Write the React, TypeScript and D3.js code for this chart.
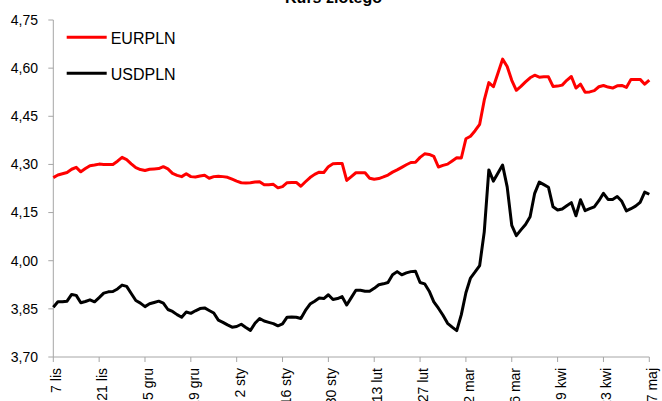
import * as d3 from "d3";

// Kurs złotego: dzienne notowania EURPLN / USDPLN (7 lis - 7 maj)
const eurpln = [
  4.259, 4.267, 4.271, 4.275, 4.285, 4.291, 4.277, 4.287, 4.296, 4.298,
  4.301, 4.300, 4.300, 4.300, 4.310, 4.322, 4.315, 4.302, 4.290, 4.284,
  4.281, 4.285, 4.286, 4.287, 4.293, 4.286, 4.272, 4.266, 4.262, 4.271,
  4.262, 4.261, 4.264, 4.266, 4.257, 4.262, 4.263, 4.262, 4.260, 4.254,
  4.248, 4.243, 4.242, 4.243, 4.245, 4.246, 4.237, 4.237, 4.238, 4.227,
  4.231, 4.243, 4.244, 4.244, 4.232, 4.246, 4.259, 4.269, 4.276, 4.275,
  4.293, 4.302, 4.303, 4.303, 4.250, 4.262, 4.274, 4.274, 4.274, 4.257,
  4.254, 4.256, 4.261, 4.267, 4.276, 4.283, 4.291, 4.299, 4.306, 4.307,
  4.322, 4.333, 4.331, 4.325, 4.292, 4.297, 4.301, 4.311, 4.321, 4.320,
  4.380, 4.388, 4.405, 4.425, 4.500, 4.555, 4.542, 4.585, 4.628, 4.605,
  4.562, 4.531, 4.543, 4.557, 4.570, 4.578, 4.572, 4.573, 4.573, 4.543,
  4.544, 4.547, 4.562, 4.574, 4.538, 4.550, 4.525, 4.526, 4.530, 4.542,
  4.546, 4.541, 4.538, 4.545, 4.546, 4.540, 4.565, 4.565, 4.565, 4.550,
  4.563,
];

const usdpln = [
  3.855, 3.872, 3.872, 3.874, 3.895, 3.892, 3.869, 3.873, 3.878, 3.872,
  3.885, 3.899, 3.903, 3.904, 3.912, 3.924, 3.920, 3.898, 3.876, 3.868,
  3.857, 3.866, 3.870, 3.874, 3.868, 3.848, 3.842, 3.832, 3.824, 3.840,
  3.836, 3.844, 3.851, 3.853, 3.845, 3.837, 3.815, 3.808, 3.800, 3.793,
  3.795, 3.802, 3.792, 3.783, 3.805, 3.820, 3.812, 3.808, 3.804, 3.797,
  3.803, 3.824, 3.825, 3.824, 3.820, 3.845, 3.865, 3.874, 3.884, 3.882,
  3.894, 3.879, 3.882, 3.888, 3.862, 3.885, 3.908, 3.908, 3.905, 3.905,
  3.914, 3.925, 3.928, 3.932, 3.956, 3.966, 3.956, 3.962, 3.966, 3.967,
  3.932, 3.928, 3.905, 3.872, 3.852, 3.830, 3.805, 3.793, 3.782, 3.832,
  3.900, 3.946, 3.965, 3.985, 4.090, 4.283, 4.248, 4.273, 4.298, 4.230,
  4.110, 4.078, 4.096, 4.113, 4.137, 4.210, 4.245, 4.237, 4.229, 4.168,
  4.158, 4.161, 4.171, 4.181, 4.140, 4.190, 4.156, 4.162, 4.168, 4.187,
  4.210, 4.191, 4.191, 4.200, 4.185, 4.155, 4.162, 4.170, 4.182, 4.214,
  4.207,
];

// etykiety osi X co 10 sesji
const xTickLabels = [
  "7 lis", "21 lis", "5 gru", "19 gru", "2 sty", "16 sty", "30 sty",
  "13 lut", "27 lut", "12 mar", "26 mar", "9 kwi", "23 kwi", "7 maj",
];
const xTickStep = 10;

const yTicks = [3.7, 3.85, 4.0, 4.15, 4.3, 4.45, 4.6, 4.75];

const series = [
  { name: "EURPLN", values: eurpln, color: "#ff0000" },
  { name: "USDPLN", values: usdpln, color: "#000000" },
];

const W = 662;
const H = 401;
const font = "'Liberation Sans', Arial, sans-serif";
const axisColor = "#a6a6a6";

const plFormat = d3.formatLocale({
  decimal: ",",
  thousands: " ",
  grouping: [3],
  currency: ["", " zł"],
}).format(".2f");

export default function App() {
  const n = eurpln.length;
  const x = d3.scaleLinear().domain([0, n - 1]).range([53.3, 649.3]);
  const y = d3.scaleLinear().domain([3.7, 4.75]).range([357, 20]);

  const line = d3
    .line<number>()
    .x((_, i) => x(i))
    .y((d) => y(d));

  return (
    <svg
      width={W}
      height={H}
      style={{ position: "absolute", left: 0, top: 0, background: "#fff" }}
      fontFamily={font}
    >
      <text
        x={333.5}
        y={3}
        textAnchor="middle"
        fontSize={16}
        fontWeight="bold"
        fill="#000"
      >
        Kurs złotego
      </text>

      {/* oś Y */}
      <line x1={x(0)} x2={x(0)} y1={y(4.75)} y2={y(3.7)} stroke={axisColor} />
      {yTicks.map((t) => (
        <g key={t}>
          <line
            x1={x(0) - 5}
            x2={x(0)}
            y1={y(t)}
            y2={y(t)}
            stroke={axisColor}
          />
          <text
            x={38}
            y={y(t)}
            dy="0.35em"
            textAnchor="end"
            fontSize={14}
            fill="#000"
          >
            {plFormat(t)}
          </text>
        </g>
      ))}

      {/* oś X */}
      <line x1={x(0)} x2={x(n - 1)} y1={y(3.7)} y2={y(3.7)} stroke={axisColor} />
      {xTickLabels.map((lab, k) => {
        const tx = x(k * xTickStep);
        return (
          <g key={lab}>
            <line
              x1={tx}
              x2={tx}
              y1={y(3.7)}
              y2={y(3.7) + 5}
              stroke={axisColor}
            />
            <text
              transform={`translate(${tx},368) rotate(-90)`}
              y={8}
              textAnchor="end"
              fontSize={14}
              fill="#000"
            >
              {lab}
            </text>
          </g>
        );
      })}

      {/* serie */}
      {series.map((s) => (
        <path
          key={s.name}
          d={line(s.values) ?? ""}
          fill="none"
          stroke={s.color}
          strokeWidth={3}
          strokeLinejoin="round"
        />
      ))}

      {/* legenda */}
      {series.map((s, k) => (
        <g key={s.name} transform={`translate(0,${37.3 + k * 36})`}>
          <line x1={66.7} x2={106.7} y1={0} y2={0} stroke={s.color} strokeWidth={3} />
          <text x={110.7} y={6.5} fontSize={16} fill="#000">
            {s.name}
          </text>
        </g>
      ))}
    </svg>
  );
}
